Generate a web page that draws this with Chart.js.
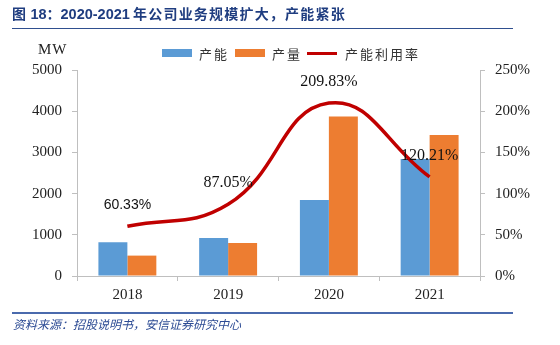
<!DOCTYPE html>
<html>
<head>
<meta charset="utf-8">
<script src="https://cdn.jsdelivr.net/npm/chart.js@4"></script>
<style>
  body { margin: 0; background: #fff; }
  #wrap { position: relative; width: 560px; height: 345px; overflow: hidden; }
  #c { position: absolute; left: 0; top: 0; }
  .abs { position: absolute; white-space: nowrap; }
  #title { left: 12px; top: 3px; font: bold 14px "Noto Sans CJK SC", "Liberation Sans", sans-serif; color: #1f3d80; }
  #title .num { font-family: "Liberation Sans", sans-serif; font-size: 14.5px; }
  #title .cn { letter-spacing: 1.2px; }
  #tline { left: 12px; top: 28px; width: 501px; height: 1px; background: #2f4f8f; }
  #fline { left: 12px; top: 312px; width: 501px; height: 2px; background: #4a6aad; }
  #src { left: 13px; top: 315px; font: italic 12px "Noto Sans CJK SC", sans-serif; color: #2c4b94; }
  #unit { left: 38px; top: 41px; font: 15px "Liberation Serif", serif; color: #222; letter-spacing: 1px; }
  .lg { top: 44px; font: 13px "Noto Sans CJK SC", sans-serif; color: #333; letter-spacing: 2px; }
  .box { position: absolute; width: 30px; height: 8px; top: 49px; }
</style>
</head>
<body>
<div id="wrap">
  <canvas id="c" width="560" height="345"></canvas>
  <div class="abs" id="title"><span class="cn">图</span> <span class="num">18</span>：<span class="num">2020-2021</span> <span class="cn">年公司业务规模扩大，产能紧张</span></div>
  <div class="abs" id="tline"></div>
  <div class="abs" id="unit">MW</div>
  <div class="box" style="left:162px;background:#5b9bd5"></div>
  <div class="abs lg" style="left:199px">产能</div>
  <div class="box" style="left:235px;background:#ed7d31"></div>
  <div class="abs lg" style="left:272px">产量</div>
  <div class="box" style="left:307px;top:52px;height:3px;background:#c00000"></div>
  <div class="abs lg" style="left:345px">产能利用率</div>
  <div class="abs" id="fline"></div>
  <div class="abs" id="src">资料来源：招股说明书，安信证券研究中心</div>
</div>
<script>
let years = ["2018", "2019", "2020", "2021"];
let capacity = [820, 920, 1845, 2840]; //产能 MW
let output = [495, 800, 3870, 3420]; //产量 MW
let utilization = [60.33, 87.05, 209.83, 120.21]; //产能利用率 %
let labelFonts = ['14px "Liberation Sans"', '16px "Liberation Serif"', '16px "Liberation Serif"', '16px "Liberation Serif"'];

//percent labels above the line points
const lineLabels = {
     id: "lineLabels",
     afterDatasetsDraw(chart) {
          const meta = chart.getDatasetMeta(2);
          const ctx = chart.ctx;
          ctx.save();
          ctx.fillStyle = "#111";
          ctx.textAlign = "center";
          ctx.textBaseline = "middle";
          meta.data.forEach(function (pt, i) {
               ctx.font = labelFonts[i];
               ctx.fillText(utilization[i].toFixed(2) + "%", pt.x, pt.y - 21);
          });
          ctx.restore();
     },
};

const tickFont = { family: "Liberation Serif", size: 15 };

new Chart("c", {
     type: "bar",
     data: {
          labels: years,
          datasets: [
               { label: "产能", data: capacity, backgroundColor: "#5b9bd5", yAxisID: "y", order: 1 },
               { label: "产量", data: output, backgroundColor: "#ed7d31", yAxisID: "y", order: 1 },
               {
                    type: "line",
                    label: "产能利用率",
                    data: utilization,
                    borderColor: "#c00000",
                    backgroundColor: "#c00000",
                    borderWidth: 3.5,
                    pointRadius: 0,
                    tension: 0.45,
                    yAxisID: "y1",
                    order: 0,
               },
          ],
     },
     options: {
          responsive: false,
          animation: false,
          layout: { padding: { top: 70, left: 0, right: 0, bottom: 0 } },
          datasets: { bar: { categoryPercentage: 0.575, barPercentage: 1 } },
          plugins: { legend: { display: false }, tooltip: { enabled: false } },
          scales: {
               x: {
                    afterFit: function (s) { s.height = 69; },
                    border: { color: "#bfbfbf" },
                    grid: { drawOnChartArea: false, tickLength: 5, color: "#bfbfbf" },
                    ticks: { font: tickFont, color: "#222", padding: 5 },
               },
               y: {
                    position: "left",
                    min: 0,
                    max: 5000,
                    afterFit: function (s) { s.width = 77; },
                    border: { color: "#bfbfbf" },
                    grid: { drawOnChartArea: false, tickLength: 5, color: "#bfbfbf" },
                    ticks: {
                         stepSize: 1000,
                         font: tickFont,
                         color: "#222",
                         padding: 10,
                         callback: function (v) { return String(v); },
                    },
               },
               y1: {
                    position: "right",
                    min: 0,
                    max: 250,
                    afterFit: function (s) { s.width = 80; },
                    border: { color: "#bfbfbf" },
                    grid: { drawOnChartArea: false, tickLength: 5, color: "#bfbfbf" },
                    ticks: {
                         stepSize: 50,
                         font: tickFont,
                         color: "#222",
                         padding: 10,
                         callback: function (v) { return v + "%"; },
                    },
               },
          },
     },
     plugins: [lineLabels],
});
</script>
</body>
</html>
